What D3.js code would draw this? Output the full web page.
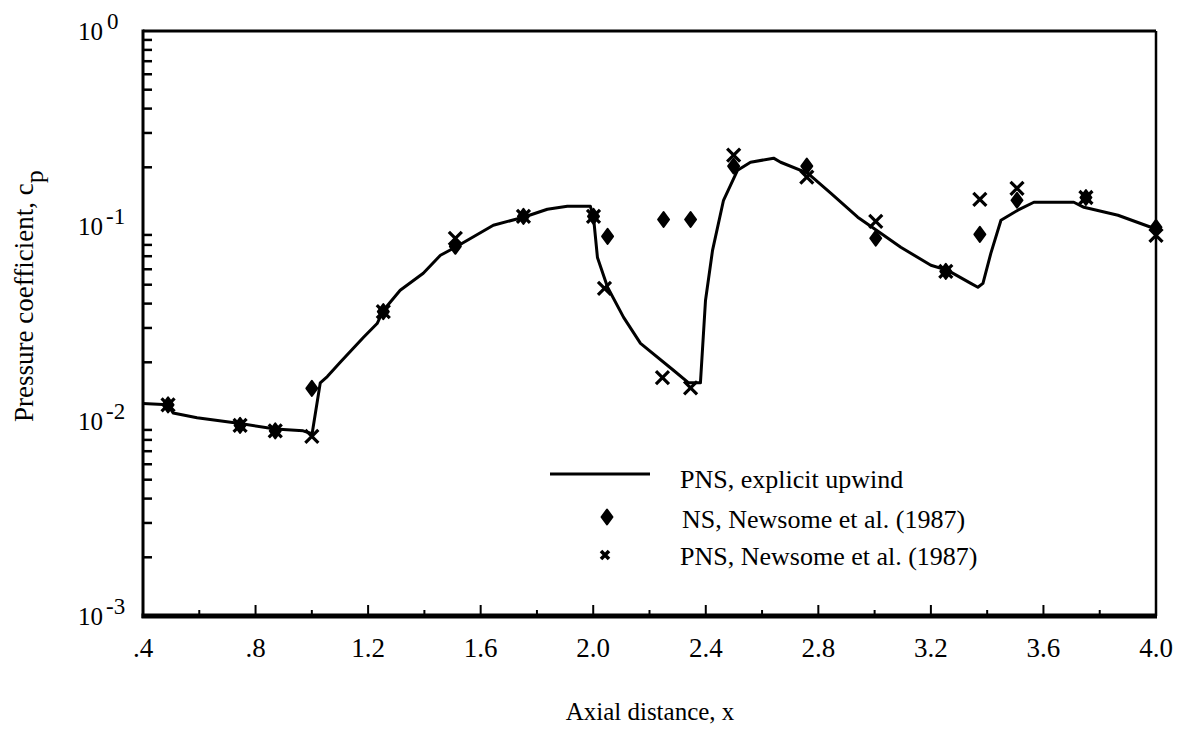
<!DOCTYPE html>
<html>
<head>
<meta charset="utf-8">
<script src="https://cdn.jsdelivr.net/npm/d3@7"></script>
<style>
  body { margin: 0; background: #fff; }
</style>
</head>
<body>
<div id="chart"></div>
<script>
// PNS, explicit upwind (solid line)
const lineX  = [0.400, 0.489, 0.507, 0.592, 0.745, 0.870, 0.969, 1.001, 1.030, 1.055, 1.101, 1.183, 1.232, 1.254,
                1.314, 1.396, 1.457, 1.510, 1.645, 1.752, 1.837, 1.908, 1.990, 2.001, 2.015, 2.051, 2.108, 2.168,
                2.285, 2.339, 2.381, 2.399, 2.424, 2.463, 2.513, 2.559, 2.641, 2.666, 2.762, 2.844, 2.940, 3.022,
                3.093, 3.200, 3.260, 3.342, 3.367, 3.385, 3.413, 3.449, 3.509, 3.566, 3.708, 3.744, 3.865, 3.982, 4.000];
const lineCp = [0.0123, 0.0121, 0.0110, 0.0104, 0.0097, 0.0091, 0.0089, 0.0086, 0.0157, 0.0169, 0.0200, 0.0268, 0.0316, 0.0369,
                0.0468, 0.0572, 0.0708, 0.0778, 0.1009, 0.1109, 0.1219, 0.1262, 0.1262, 0.1109, 0.0690, 0.0485, 0.0340, 0.0250,
                0.0182, 0.0157, 0.0157, 0.0415, 0.0750, 0.1355, 0.1932, 0.2123, 0.2228, 0.2123, 0.1865, 0.1473, 0.1109, 0.0917,
                0.0778, 0.0629, 0.0592, 0.0508, 0.0485, 0.0508, 0.0724, 0.1070, 0.1205, 0.1324, 0.1324, 0.1247, 0.1135, 0.0985, 0.0951];

// NS, Newsome et al. (1987)
const nsX  = [0.489, 0.745, 0.870, 1.000, 1.254, 1.510, 1.752, 2.001, 2.051, 2.250, 2.346, 2.499, 2.759, 3.004, 3.253, 3.374, 3.506, 3.751, 4.000];
const nsCp = [0.0121, 0.0095, 0.0089, 0.0147, 0.0364, 0.0787, 0.112, 0.112, 0.0885, 0.108, 0.108, 0.203, 0.203, 0.0865, 0.0585, 0.0906, 0.1355, 0.140, 0.0985];

// PNS, Newsome et al. (1987)
const pnsX  = [0.489, 0.745, 0.870, 1.000, 1.254, 1.510, 1.752, 2.001, 2.040, 2.246, 2.346, 2.499, 2.759, 3.004, 3.253, 3.374, 3.506, 3.751, 4.000];
const pnsCp = [0.0121, 0.0095, 0.0089, 0.00835, 0.0364, 0.0865, 0.112, 0.112, 0.0479, 0.0167, 0.0148, 0.231, 0.178, 0.1057, 0.0585, 0.137, 0.156, 0.140, 0.0896];

const xTicks = [0.4, 0.8, 1.2, 1.6, 2.0, 2.4, 2.8, 3.2, 3.6, 4.0];
const xTickLabels = ['.4', '.8', '1.2', '1.6', '2.0', '2.4', '2.8', '3.2', '3.6', '4.0'];
const yDecades = [0, -1, -2, -3];

const legendLabels = ['PNS, explicit upwind', 'NS, Newsome et al. (1987)', 'PNS, Newsome et al. (1987)'];

const width = 1192, height = 733;
const margin = { left: 143, top: 31, right: 36, bottom: 117 };
const serif = '"Liberation Serif", "Times New Roman", Tinos, "DejaVu Serif", serif';

const x = d3.scaleLinear().domain([0.4, 4.0]).range([margin.left, width - margin.right]);
const y = d3.scaleLog().domain([1e-3, 1]).range([height - margin.bottom, margin.top]);

const svg = d3.select('#chart').append('svg')
    .attr('width', width)
    .attr('height', height)
    .attr('font-family', serif);

// diamond marker (slightly taller than wide), and bold x marker
function diamond(g, cx, cy) {
    g.append('path')
        .attr('d', `M${cx},${cy - 7.5}L${cx + 5.5},${cy}L${cx},${cy + 7.5}L${cx - 5.5},${cy}Z`)
        .attr('fill', '#000').attr('stroke', '#000')
        .attr('stroke-width', 2).attr('stroke-linejoin', 'round');
}
function cross(g, cx, cy, s, w) {
    g.append('path')
        .attr('d', `M${cx - s},${cy - s}L${cx + s},${cy + s}M${cx - s},${cy + s}L${cx + s},${cy - s}`)
        .attr('stroke', '#000').attr('stroke-width', w).attr('fill', 'none');
}

// frame
const x0 = x(0.4), x1 = x(4.0), y0 = y(1e-3), y1 = y(1);
svg.append('line').attr('x1', x0).attr('x2', x1).attr('y1', y1).attr('y2', y1).attr('stroke', '#000').attr('stroke-width', 3);
svg.append('line').attr('x1', x1).attr('x2', x1).attr('y1', y1).attr('y2', y0).attr('stroke', '#000').attr('stroke-width', 2.5);
svg.append('line').attr('x1', x0).attr('x2', x0).attr('y1', y1 - 1.5).attr('y2', y0 + 2).attr('stroke', '#000').attr('stroke-width', 3);
svg.append('line').attr('x1', x0 - 1.5).attr('x2', x1 + 1).attr('y1', y0).attr('y2', y0).attr('stroke', '#000').attr('stroke-width', 5);

// x ticks (inward): labelled every 0.4, minor every 0.2
const xAxis = svg.append('g');
d3.range(0.6, 3.9, 0.2).forEach((v, i) => {
    xAxis.append('line')
        .attr('x1', x(v)).attr('x2', x(v))
        .attr('y1', y0).attr('y2', y0 - (i % 2 === 1 ? 11 : 6))
        .attr('stroke', '#000').attr('stroke-width', 2);
});
xAxis.selectAll('text').data(xTicks).enter().append('text')
    .attr('x', d => x(d))
    .attr('y', y0 + 41)
    .attr('text-anchor', 'middle')
    .attr('font-size', 27)
    .text((d, i) => xTickLabels[i]);

// y ticks (inward), log minors 2..9
const yAxis = svg.append('g');
yDecades.slice(1).forEach(e => {
    d3.range(2, 10).forEach(m => {
        const v = m * Math.pow(10, e);
        yAxis.append('line')
            .attr('x1', x0).attr('x2', x0 + 9)
            .attr('y1', y(v)).attr('y2', y(v))
            .attr('stroke', '#000').attr('stroke-width', 2.5);
    });
});
yDecades.forEach(e => {
    const t = yAxis.append('text')
        .attr('x', 78)
        .attr('y', y(Math.pow(10, e)) + 9)
        .attr('font-size', 25);
    t.append('tspan').text('10');
    t.append('tspan').attr('dx', e < 0 ? 3 : 4).attr('dy', -11).attr('font-size', 23).text(e === 0 ? '0' : '-' + (-e));
});

// axis titles
svg.append('text')
    .attr('x', 650)
    .attr('y', 720)
    .attr('text-anchor', 'middle')
    .attr('font-size', 25)
    .text('Axial distance, x');

const yt = svg.append('text')
    .attr('transform', 'translate(33,422) rotate(-90)')
    .attr('font-size', 27);
yt.append('tspan').text('Pressure coefficient, c');
yt.append('tspan').attr('dy', 10).attr('font-size', 26).text('p');

// solid line
const line = d3.line().x(d => x(d[0])).y(d => y(d[1]));
svg.append('path')
    .datum(d3.zip(lineX, lineCp))
    .attr('d', line)
    .attr('fill', 'none')
    .attr('stroke', '#000')
    .attr('stroke-width', 3)
    .attr('stroke-linejoin', 'round');

// markers
const marks = svg.append('g');
d3.zip(nsX, nsCp).forEach(d => diamond(marks, x(d[0]), y(d[1])));
d3.zip(pnsX, pnsCp).forEach(d => cross(marks, x(d[0]), y(d[1]), 6.5, 3.2));

// legend
const lg = svg.append('g');
lg.append('line').attr('x1', 550).attr('x2', 650).attr('y1', 474).attr('y2', 474)
    .attr('stroke', '#000').attr('stroke-width', 3);
diamond(lg, 607, 517);
cross(lg, 605, 555, 4, 3.6);
[[680, 488], [682, 528], [680, 565]].forEach((p, i) => {
    lg.append('text').attr('x', p[0]).attr('y', p[1]).attr('font-size', 26).text(legendLabels[i]);
});
</script>
</body>
</html>
